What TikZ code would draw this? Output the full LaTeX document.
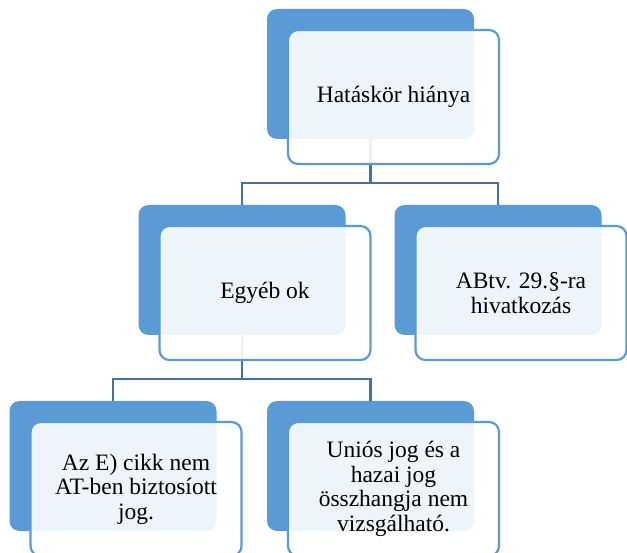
\documentclass[tikz,border=0pt]{standalone}
\usepackage{fontspec}
\setmainfont{Liberation Serif}
\definecolor{accentblue}{RGB}{91,155,213}
\definecolor{linkblue}{RGB}{68,114,160}

\begin{document}
\begin{tikzpicture}[x=1pt, y=-1pt,
  back/.style={rectangle, rounded corners=10pt, fill=accentblue,
    minimum width=207pt, minimum height=130pt, inner sep=0pt},
  front/.style={rectangle, rounded corners=10pt, draw=accentblue,
    line width=2.2pt, fill=white, fill opacity=0.9, text opacity=1,
    minimum width=211pt, minimum height=134pt, inner sep=0pt,
    align=center, font=\fontsize{23.5}{24.5}\selectfont},
  link/.style={draw=linkblue, line width=2.6pt}]
\useasboundingbox (0,0) rectangle (627,553);

% blue shapes behind
\node[back] (topB) at (370.5,74) {};
\node[back] (egyebB) at (242,270) {};
\node[back] (abtvB) at (498,270) {};
\node[back] (cikkB) at (113,466) {};
\node[back] (uniosB) at (370.5,466) {};

% connectors
\coordinate (fork1) at (370.5,183);
\coordinate (fork2) at (242,379);
\draw[link] (topB.south) -- (fork1);
\draw[link] (egyebB.north) |- (fork1) -| (abtvB.north);
\draw[link] (egyebB.south) -- (fork2);
\draw[link] (cikkB.north) |- (fork2) -| (uniosB.north);

% text boxes
\node[front] (top) at ([shift={(23,23)}]topB.center) {Hatáskör hiánya};
\node[front] (egyeb) at ([shift={(23,23)}]egyebB.center) {Egyéb ok};
\node[front] (abtv) at ([shift={(23,23)}]abtvB.center)
  {ABtv. 29.§-ra\\hivatkozás};
\node[front] (cikk) at ([shift={(23,23)}]cikkB.center)
  {Az E) cikk nem\\AT-ben biztosíott\\jog.};
\node[front] (unios) at ([shift={(23,23)}]uniosB.center)
  {Uniós jog és a\\hazai jog\\összhangja nem\\vizsgálható.};
\end{tikzpicture}
\end{document}
